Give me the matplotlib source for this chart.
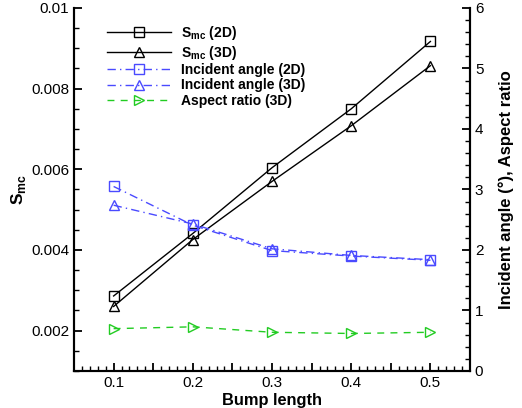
import matplotlib
matplotlib.use("Agg")
import matplotlib.pyplot as plt
from matplotlib.ticker import MultipleLocator, FuncFormatter

plt.rcParams['font.family'] = ['Liberation Sans', 'DejaVu Sans']
plt.rcParams['mathtext.fontset'] = 'custom'
plt.rcParams['mathtext.rm'] = 'Liberation Sans'
plt.rcParams['mathtext.bf'] = 'Liberation Sans:bold'

# Bump length values
bump_length = [0.1, 0.2, 0.3, 0.4, 0.5]

# Mixing parameter (left axis)
smc_2d = [0.00286, 0.00441, 0.00604, 0.00750, 0.00917]
smc_3d = [0.00260, 0.00426, 0.00570, 0.00708, 0.00857]

# Incident angle (deg) and aspect ratio (right axis)
angle_2d = [3.05, 2.41, 1.99, 1.90, 1.83]
angle_3d = [2.74, 2.43, 2.02, 1.91, 1.84]
aspect_3d = [0.70, 0.73, 0.64, 0.62, 0.64]

blue = '#4a4aff'
green = '#22cc22'

fig = plt.figure(figsize=(5.22, 4.08), dpi=100)
ax = fig.add_axes([0.1418, 0.0907, 0.7586, 0.8897])
ax2 = ax.twinx()

mk = dict(markersize=7, markerfacecolor='none', markeredgewidth=1.0, lw=1.0)
l1, = ax.plot(bump_length, smc_2d, color='black', marker='s', label=r'S$_{\mathbf{mc}}$ (2D)', **mk)
l2, = ax.plot(bump_length, smc_3d, color='black', marker='^', label=r'S$_{\mathbf{mc}}$ (3D)', **mk)
l3, = ax2.plot(bump_length, angle_2d, color=blue, marker='s', dashes=(6, 3, 1, 3),
               label='Incident angle (2D)', **mk)
l4, = ax2.plot(bump_length, angle_3d, color=blue, marker='^', dashes=(6, 3, 1, 3),
               label='Incident angle (3D)', **mk)
l5, = ax2.plot(bump_length, aspect_3d, color=green, marker='>', dashes=(5, 4.5),
               label='Aspect ratio (3D)', **mk)

ax.set_xlim(0.05, 0.55)
ax.set_ylim(0.001, 0.01)
ax2.set_ylim(0, 6)

ax.xaxis.set_major_locator(MultipleLocator(0.05))
ax.xaxis.set_minor_locator(MultipleLocator(0.01))
ax.xaxis.set_major_formatter(FuncFormatter(
    lambda v, p: ('%g' % round(v, 2)) if abs(round(v * 10) - v * 10) < 1e-6 and 0.09 < v < 0.51 else ''))
ax.yaxis.set_major_locator(MultipleLocator(0.002))
ax.yaxis.set_minor_locator(MultipleLocator(0.0005))
ax.yaxis.set_major_formatter(FuncFormatter(lambda v, p: '%g' % round(v, 4)))
ax2.yaxis.set_major_locator(MultipleLocator(1))
ax2.yaxis.set_minor_locator(MultipleLocator(0.2))

for a in (ax, ax2):
    a.spines['top'].set_visible(False)
    for s in a.spines.values():
        s.set_linewidth(1.5)
    a.tick_params(which='major', direction='in', length=6, width=1.3, labelsize=11)
    a.tick_params(which='minor', direction='in', length=3.5, width=1.0)
ax.tick_params(axis='y', which='both', right=False)
ax.tick_params(axis='x', which='both', top=False)

ax.set_xlabel('Bump length', fontsize=11.8, fontweight='bold', labelpad=2)
ax.set_ylabel(r'S$_{\mathbf{mc}}$', fontsize=12.5, fontweight='bold', labelpad=2)
ax2.set_ylabel('Incident angle (°), Aspect ratio', fontsize=12, fontweight='bold', labelpad=11)

leg = ax.legend(handles=[l1, l2, l3, l4, l5], loc='upper left', bbox_to_anchor=(0.059, 0.982),
                frameon=False, prop={'weight': 'bold', 'size': 10}, handlelength=4.6,
                handletextpad=0.72, labelspacing=0.1, borderaxespad=0.3)

fig.savefig('out.png', dpi=100)
